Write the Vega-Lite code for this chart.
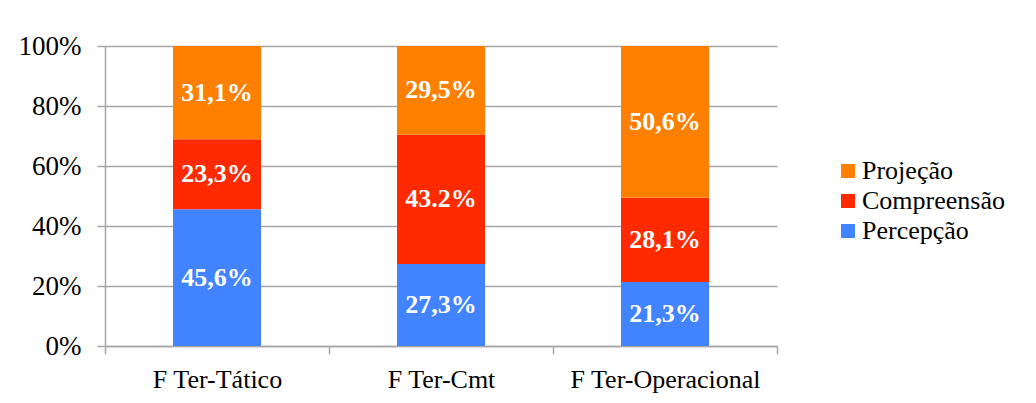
{
  "$schema": "https://vega.github.io/schema/vega-lite/v6.json",
  "width": 672,
  "height": 300,
  "autosize": "none",
  "padding": {"left": 105, "top": 46, "right": 259, "bottom": 57},
  "background": "white",
  "data": {
    "values": [
      {"cat": "F Ter-Tático", "comp": "Percepção", "ord": 1, "value": 45.6, "label": "45,6%"},
      {"cat": "F Ter-Tático", "comp": "Compreensão", "ord": 2, "value": 23.3, "label": "23,3%"},
      {"cat": "F Ter-Tático", "comp": "Projeção", "ord": 3, "value": 31.1, "label": "31,1%"},
      {"cat": "F Ter-Cmt", "comp": "Percepção", "ord": 1, "value": 27.3, "label": "27,3%"},
      {"cat": "F Ter-Cmt", "comp": "Compreensão", "ord": 2, "value": 43.2, "label": "43.2%"},
      {"cat": "F Ter-Cmt", "comp": "Projeção", "ord": 3, "value": 29.5, "label": "29,5%"},
      {"cat": "F Ter-Operacional", "comp": "Percepção", "ord": 1, "value": 21.3, "label": "21,3%"},
      {"cat": "F Ter-Operacional", "comp": "Compreensão", "ord": 2, "value": 28.1, "label": "28,1%"},
      {"cat": "F Ter-Operacional", "comp": "Projeção", "ord": 3, "value": 50.6, "label": "50,6%"}
    ]
  },
  "transform": [
    {"stack": "value", "groupby": ["cat"], "sort": [{"field": "ord"}], "as": ["v0", "v1"]},
    {"calculate": "(datum.v0 + datum.v1) / 2", "as": "vmid"}
  ],
  "encoding": {
    "x": {
      "field": "cat",
      "type": "nominal",
      "sort": ["F Ter-Tático", "F Ter-Cmt", "F Ter-Operacional"],
      "scale": {"paddingInner": 0, "paddingOuter": 0},
      "axis": {
        "title": null,
        "labelAngle": 0,
        "labelFont": "Liberation Serif",
        "labelFontSize": 26,
        "labelColor": "black",
        "labelPadding": 12,
        "labelLimit": 0,
        "tickBand": "extent",
        "tickSize": 8,
        "tickColor": "#a6a6a6",
        "tickWidth": 1.5,
        "domainColor": "#a6a6a6",
        "domainWidth": 1.5,
        "grid": false
      }
    }
  },
  "layer": [
    {
      "mark": {"type": "bar", "size": 88},
      "encoding": {
        "y": {
          "field": "v0",
          "type": "quantitative",
          "scale": {"domain": [0, 100]},
          "axis": {
            "title": null,
            "values": [0, 20, 40, 60, 80, 100],
            "labelExpr": "datum.value + '%'",
            "labelFont": "Liberation Serif",
            "labelFontSize": 27,
            "labelColor": "black",
            "labelPadding": 16,
            "tickSize": 8,
            "tickColor": "#a6a6a6",
            "tickWidth": 1.5,
            "domainColor": "#a6a6a6",
            "domainWidth": 1.5,
            "grid": true,
            "gridColor": "#a6a6a6",
            "gridWidth": 1.5
          }
        },
        "y2": {"field": "v1"},
        "color": {
          "field": "comp",
          "type": "nominal",
          "sort": ["Projeção", "Compreensão", "Percepção"],
          "scale": {
            "domain": ["Projeção", "Compreensão", "Percepção"],
            "range": ["#ff8000", "#ff2a00", "#4284ff"]
          },
          "legend": {
            "title": null,
            "orient": "none",
            "legendX": 730,
            "legendY": 112,
            "symbolType": "square",
            "symbolSize": 196,
            "symbolStrokeWidth": 0,
            "labelFont": "Liberation Serif",
            "labelFontSize": 26,
            "labelColor": "black",
            "labelOffset": 1,
            "labelLimit": 0,
            "rowPadding": 4,
            "padding": 0
          }
        }
      }
    },
    {
      "mark": {
        "type": "text",
        "font": "Liberation Serif",
        "fontWeight": "bold",
        "fontSize": 26,
        "color": "white",
        "baseline": "middle",
        "align": "center"
      },
      "encoding": {
        "y": {"field": "vmid", "type": "quantitative"},
        "text": {"field": "label"}
      }
    }
  ],
  "config": {"view": {"stroke": null}}
}
